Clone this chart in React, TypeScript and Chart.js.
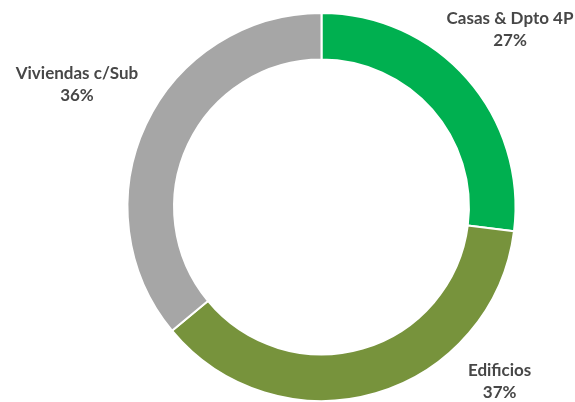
import React, { useEffect, useRef } from "react";
import { Chart, registerables } from "chart.js";

Chart.register(...registerables);

const categories = ["Casas & Dpto 4P", "Edificios", "Viviendas c/Sub"];
const shares = [27, 37, 36];
const colors = ["#00B050", "#77933C", "#A6A6A6"];
// label anchor offsets (px) from each slice's outer mid-point
const labelDx = [43, 124, -69];
const labelDy = [-49, -12, -40];

const labelPlugin = {
  id: "sliceLabels",
  afterDraw(chart: any) {
    const meta = chart.getDatasetMeta(0);
    const ctx = chart.ctx;
    ctx.save();
    ctx.font = "700 17px Lato";
    ctx.fillStyle = "#474747";
    ctx.textAlign = "center";
    ctx.textBaseline = "middle";
    meta.data.forEach((arc: any, i: number) => {
      const p = arc.getProps(["x", "y", "startAngle", "endAngle", "outerRadius"], true);
      const mid = (p.startAngle + p.endAngle) / 2;
      const ax = p.x + Math.cos(mid) * p.outerRadius + labelDx[i];
      const ay = p.y + Math.sin(mid) * p.outerRadius + labelDy[i];
      ctx.fillText(categories[i], ax, ay - 11);
      ctx.fillText(shares[i] + "%", ax, ay + 11);
    });
    ctx.restore();
  },
};

export default function App() {
  const ref = useRef<HTMLCanvasElement>(null);
  useEffect(() => {
    document.body.style.margin = "0";
    const chart = new Chart(ref.current!, {
      type: "doughnut",
      data: {
        labels: categories,
        datasets: [
          {
            data: shares,
            backgroundColor: colors,
            borderColor: "#ffffff",
            borderWidth: 2,
          },
        ],
      },
      options: {
        responsive: false,
        animation: false,
        cutout: "76%",
        layout: { padding: { left: 126, right: 58, top: 12, bottom: 0 } },
        plugins: { legend: { display: false }, tooltip: { enabled: false } },
      },
      plugins: [labelPlugin],
    });
    return () => chart.destroy();
  }, []);
  return (
    <div style={{ width: 575, height: 402, background: "#fff" }}>
      <canvas ref={ref} width={575} height={402} />
    </div>
  );
}
